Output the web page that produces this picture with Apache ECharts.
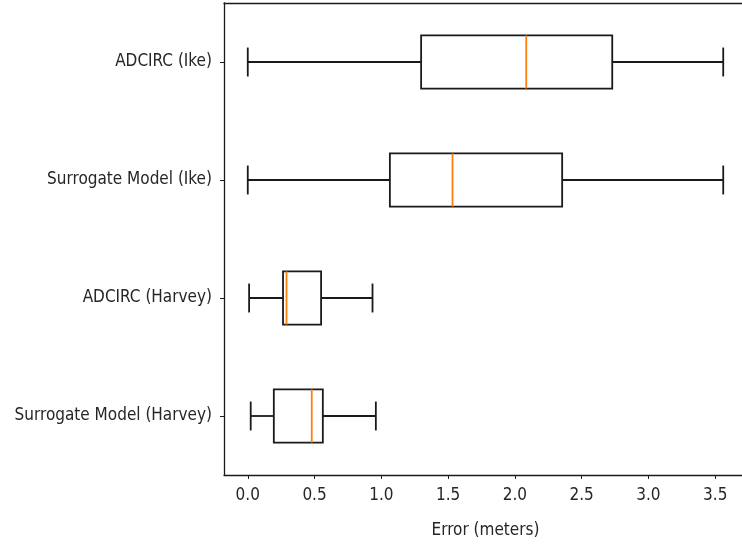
<!DOCTYPE html>
<html>
<head>
<meta charset="utf-8">
<script src="https://cdn.jsdelivr.net/npm/echarts@6/dist/echarts.min.js"></script>
<style>html,body{margin:0;padding:0;background:#fff;}#c{width:742px;height:548px;}</style>
</head>
<body>
<div id="c"></div>
<script>
// categories bottom-to-top
var categories = ['Surrogate Model (Harvey)', 'ADCIRC (Harvey)', 'Surrogate Model (Ike)', 'ADCIRC (Ike)'];
var whiskerLow = [0.022, 0.01, 0.0, 0.0];
var q1 = [0.195, 0.264, 1.064, 1.298];
var median = [0.479, 0.29, 1.533, 2.085];
var q3 = [0.562, 0.549, 2.354, 2.729];
var whiskerHigh = [0.959, 0.934, 3.56, 3.56];
var xTicks = [0, 0.5, 1.0, 1.5, 2.0, 2.5, 3.0, 3.5];

var data = categories.map(function (c, i) {
  return [i, whiskerLow[i], q1[i], median[i], q3[i], whiskerHigh[i]];
});

var FONT = '"DejaVu Sans Condensed", "DejaVu Sans", sans-serif';
var LINE = '#1a1a1a';
var TXT = '#262626';

function renderItem(params, api) {
  var cat = api.value(0);
  var lo = api.coord([api.value(1), cat]);
  var a = api.coord([api.value(2), cat]);
  var m = api.coord([api.value(3), cat]);
  var b = api.coord([api.value(4), cat]);
  var hi = api.coord([api.value(5), cat]);
  var band = api.size([0, 1])[1];
  var bh = band * 0.45 / 2;
  var ch = band * 0.245 / 2;
  var y = lo[1];
  var st = { stroke: LINE, lineWidth: 1.8, fill: null };
  return {
    type: 'group',
    children: [
      { type: 'line', shape: { x1: lo[0], y1: y, x2: a[0], y2: y }, style: st },
      { type: 'line', shape: { x1: b[0], y1: y, x2: hi[0], y2: y }, style: st },
      { type: 'line', shape: { x1: lo[0], y1: y - ch, x2: lo[0], y2: y + ch }, style: st },
      { type: 'line', shape: { x1: hi[0], y1: y - ch, x2: hi[0], y2: y + ch }, style: st },
      { type: 'rect', shape: { x: a[0], y: y - bh, width: b[0] - a[0], height: 2 * bh }, style: { stroke: LINE, lineWidth: 1.8, fill: 'none' } },
      { type: 'line', shape: { x1: m[0], y1: y - bh, x2: m[0], y2: y + bh }, style: { stroke: '#ff7f0e', lineWidth: 1.8 } }
    ]
  };
}

var chart = echarts.init(document.getElementById('c'), null, { renderer: 'canvas' });
chart.setOption({
  animation: false,
  backgroundColor: '#fff',
  grid: { left: 224, top: 3, width: 523, height: 472, outerBoundsMode: 'none', containLabel: false },
  xAxis: [{
    type: 'value',
    min: -0.178,
    max: 3.738,
    name: 'Error (meters)',
    nameLocation: 'middle',
    nameGap: 47,
    nameTextStyle: { color: TXT, fontSize: 17, fontFamily: FONT },
    splitLine: { show: false },
    axisLine: { show: true, onZero: false, lineStyle: { color: LINE, width: 1.3 } },
    axisTick: { show: true, length: 4, customValues: xTicks, lineStyle: { color: LINE } },
    axisLabel: { customValues: xTicks, margin: 12, color: TXT, fontSize: 17, fontFamily: FONT, formatter: function (v) { return v.toFixed(1); } }
  }, {
    type: 'value',
    position: 'top',
    min: -0.178,
    max: 3.738,
    splitLine: { show: false },
    axisLine: { show: true, onZero: false, lineStyle: { color: LINE, width: 1.3 } },
    axisTick: { show: false },
    axisLabel: { show: false }
  }],
  yAxis: {
    type: 'category',
    data: categories,
    boundaryGap: true,
    axisLine: { show: true, onZero: false, lineStyle: { color: LINE, width: 1.3 } },
    axisTick: { show: true, length: 4, alignWithLabel: true, lineStyle: { color: LINE } },
    axisLabel: { margin: 12, color: TXT, fontSize: 17, fontFamily: FONT, padding: [6, 0, 0, 0] },
    splitLine: { show: false }
  },
  series: [{
    type: 'custom',
    renderItem: renderItem,
    encode: { x: [1, 2, 3, 4, 5], y: 0 },
    data: data
  }]
});
</script>
</body>
</html>
